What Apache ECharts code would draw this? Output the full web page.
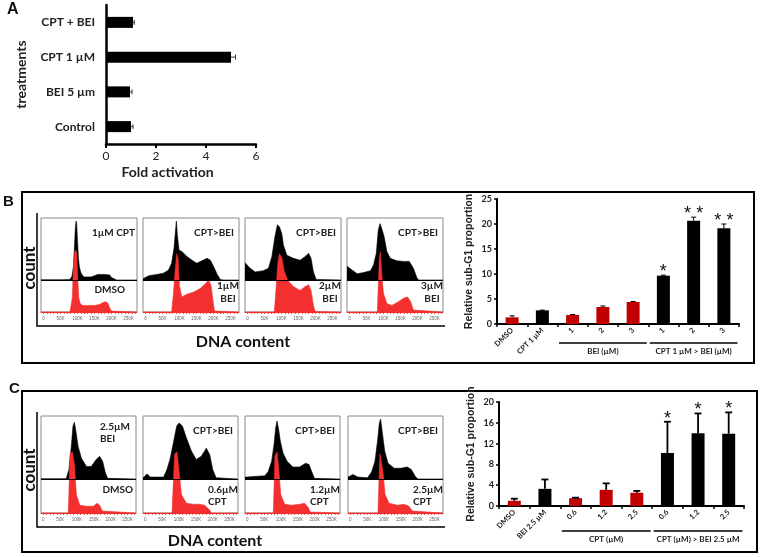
<!DOCTYPE html>
<html><head><meta charset="utf-8">
<script src="https://cdn.jsdelivr.net/npm/echarts@6/dist/echarts.min.js"></script>
<style>html,body{margin:0;padding:0;background:#fff}#main{width:763px;height:557px}</style>
</head><body><div id="main"></div>
<script>
// ---------- DATA ----------
// Panel A
const aCategories = ['Control', 'BEI 5 µm', 'CPT 1 µM', 'CPT + BEI'];
const aValues = [1.0, 0.96, 5.0, 1.08];
const aErrors = [0.08, 0.08, 0.18, 0.05];

// Panel B bar chart
const bCategories = ['DMSO', 'CPT 1 µM', '1', '2', '3', '1', '2', '3'];
const bValues = [1.33, 2.73, 1.8, 3.4, 4.4, 9.67, 20.67, 19.13];
const bErrors = [0.3, 0.05, 0.1, 0.2, 0.1, 0.1, 0.7, 0.87];
const bKinds = ['ctrl', 'ref', 'dose', 'dose', 'dose', 'combo', 'combo', 'combo'];
const bStars = ['', '', '', '', '', '*', '* *', '* *'];
const bGroupRanges = [[2, 4], [5, 7]];
const bGroupNames = ['BEI (µM)', 'CPT 1 µM > BEI (µM)'];

// Panel C bar chart
const cCategories = ['DMSO', 'BEI 2.5 µM', '0.6', '1.2', '2.5', '0.6', '1.2', '2.5'];
const cValues = [1.0, 3.3, 1.5, 3.1, 2.55, 10.2, 14.0, 13.9];
const cErrors = [0.4, 1.8, 0.1, 1.25, 0.35, 6.0, 3.8, 4.1];
const cKinds = ['ctrl', 'ref', 'dose', 'dose', 'dose', 'combo', 'combo', 'combo'];
const cStars = ['', '', '', '', '', '*', '*', '*'];
const cGroupRanges = [[2, 4], [5, 7]];
const cGroupNames = ['CPT (µM)', 'CPT (µM) > BEI 2.5 µM'];

// Flow histograms: [DNA content (K), count]
const histTicks = [0, 50, 100, 150, 200, 250];
const histB1Black = [[-7,0.5],[60,0.5],[78,1],[84,6],[88,20],[91,50],[94,85],[96,95],[98,90],[100,65],[103,35],[106,20],[110,12],[114,8],[120,5],[140,5],[150,7],[160,9],[180,9],[195,8],[200,4],[205,1],[215,0],[275,0]];
const histB1Red = [[-7,0],[78,0],[82,2],[85,15],[88,45],[91,63],[95,66],[98,62],[101,35],[104,15],[108,9],[115,7],[130,7],[150,7],[165,8],[175,10],[183,11],[190,9],[195,4],[200,1],[205,0],[275,0]];
const histB2Black = [[-7,2],[-2,3],[10,7],[34,9],[53,11],[68,16],[77,27],[84,51],[89,83],[91,95],[94,72],[99,48],[107,46],[122,38],[137,32],[151,27],[166,31],[181,35],[191,32],[201,21],[211,9],[220,1],[228,0],[275,0]];
const histB2Red = [[-7,0],[77,0],[82,18],[87,43],[92,62],[96,57],[100,28],[107,16],[122,19],[141,21],[161,25],[176,30],[186,34],[193,28],[199,11],[203,1],[206,0],[275,0]];
const histB3Black = [[-7,28],[-2,26],[8,19],[23,13],[47,15],[62,19],[72,38],[81,70],[88,89],[94,86],[101,75],[106,56],[116,40],[135,35],[155,32],[170,38],[180,43],[187,35],[194,13],[202,1],[206,0],[275,0]];
const histB3Red = [[-7,0],[79,0],[84,23],[89,51],[94,62],[101,58],[108,44],[118,34],[135,27],[155,23],[170,27],[180,29],[187,23],[194,7],[199,0.5],[202,0],[275,0]];
const histB4Black = [[-7,22],[-2,21],[8,16],[23,10],[42,12],[62,15],[71,24],[79,43],[85,81],[90,91],[95,83],[102,70],[110,46],[120,35],[139,31],[159,30],[176,30],[188,19],[198,4],[203,0],[275,0]];
const histB4Red = [[-7,0],[82,0],[85,28],[88,58],[91,64],[95,41],[100,20],[110,9],[125,7],[144,11],[161,15],[171,16],[180,11],[188,2],[192,0],[275,0]];
const histC1Black = [[-7,0.5],[68,0.5],[76,15],[83,52],[88,84],[92,90],[96,78],[103,52],[113,33],[128,20],[142,20],[157,31],[167,36],[176,28],[184,10],[191,1],[196,0],[275,0]];
const histC1Red = [[-7,0],[74,0],[76,23],[79,61],[86,63],[92,51],[98,19],[108,8],[128,7],[148,7],[160,10],[167,8],[175,2],[179,0],[275,0]];
const histC2Black = [[-7,2],[-3,2],[5,8],[15,3],[54,3],[64,15],[73,31],[83,57],[93,84],[100,89],[110,84],[122,65],[137,44],[151,31],[166,36],[181,49],[191,39],[200,15],[210,2],[214,0],[275,0]];
const histC2Red = [[-7,0],[79,0],[82,23],[87,61],[94,63],[99,47],[107,19],[122,10],[142,9],[161,9],[176,8],[191,3],[196,0],[275,0]];
const histC3Black = [[-7,3],[-1,3],[18,4],[52,5],[62,12],[72,28],[79,54],[84,81],[88,92],[93,78],[98,60],[106,41],[118,28],[135,19],[155,19],[173,25],[183,23],[193,9],[199,1],[203,0],[275,0]];
const histC3Red = [[-7,0],[77,0],[79,23],[82,59],[88,63],[93,47],[99,19],[111,9],[131,8],[155,9],[170,10],[180,6],[187,1],[190,0],[275,0]];
const histC4Black = [[-7,3],[-2,3],[8,7],[22,3],[51,2],[63,11],[73,28],[81,62],[86,89],[90,95],[95,73],[102,44],[112,25],[130,17],[149,17],[169,19],[181,15],[193,4],[200,0],[275,0]];
const histC4Red = [[-7,0],[82,0],[84,23],[88,61],[92,63],[97,42],[103,19],[115,10],[140,8],[159,9],[174,7],[184,2],[188,0],[275,0]];

const histBTopLabels = ['1µM CPT', 'CPT>BEI', 'CPT>BEI', 'CPT>BEI'];
const histBBottomLabels = ['DMSO', '1µM\nBEI', '2µM\nBEI', '3µM\nBEI'];
const histCTopLabels = ['2.5µM\nBEI', 'CPT>BEI', 'CPT>BEI', 'CPT>BEI'];
const histCBottomLabels = ['DMSO', '0.6µM\nCPT', '1.2µM\nCPT', '2.5µM\nCPT'];

// ---------- LAYOUT / STYLE ----------
const FONT = 'Lato, "Open Sans", sans-serif';
const ARIAL = '"Liberation Sans", Arial, sans-serif';
const RED_HIST = '#f42f2f';
const kindColor = {ctrl: '#c00000', ref: '#000', dose: '#c00000', combo: '#000'};
const HB = {lefts: [41, 143, 245, 347], width: 96, top: 218, divider: 280, base: 312,
  black: [histB1Black, histB2Black, histB3Black, histB4Black], red: [histB1Red, histB2Red, histB3Red, histB4Red]};
const HC = {lefts: [41, 143, 245, 348], width: 95, top: 416, divider: 479, base: 513,
  black: [histC1Black, histC2Black, histC3Black, histC4Black], red: [histC1Red, histC2Red, histC3Red, histC4Red]};

const grids = [], xAxes = [], yAxes = [], series = [], graphics = [];

// ---------- Panel A ----------
grids.push({left: 106, top: 5, width: 150, height: 139});
xAxes.push({gridIndex: 0, type: 'value', min: 0, max: 6, interval: 2,
  axisLine: {show: true, lineStyle: {color: '#000', width: 2.5}},
  axisTick: {show: true, length: 4, lineStyle: {color: '#000', width: 2}},
  axisLabel: {fontSize: 12, color: '#222', fontFamily: FONT, margin: 6},
  splitLine: {show: false},
  name: 'Fold activation', nameLocation: 'middle', nameGap: 21,
  nameTextStyle: {fontSize: 14, fontWeight: 'bold', fontFamily: FONT, color: '#222', padding: [0, 27, 0, 0]}});
yAxes.push({gridIndex: 0, type: 'category', data: aCategories,
  axisLine: {show: true, lineStyle: {color: '#000', width: 2.5}},
  axisTick: {show: false},
  axisLabel: {fontSize: 12, fontWeight: 'bold', color: '#222', fontFamily: FONT, margin: 11},
  name: 'treatments', nameLocation: 'middle', nameGap: 78, nameRotate: 90,
  nameTextStyle: {fontSize: 14, fontWeight: 'bold', fontFamily: FONT, color: '#222'}});
series.push({type: 'bar', xAxisIndex: 0, yAxisIndex: 0, data: aValues, barWidth: 11,
  itemStyle: {color: '#000'}, z: 2});
series.push({type: 'custom', xAxisIndex: 0, yAxisIndex: 0, z: 3,
  data: aValues.map((v, i) => [v, i, aErrors[i]]),
  renderItem: (params, api) => {
    const v = api.value(0), c = api.value(1), e = api.value(2);
    const p0 = api.coord([v, c]), p1 = api.coord([v + e, c]);
    return {type: 'group', children: [
      {type: 'line', shape: {x1: p0[0], y1: p0[1], x2: p1[0], y2: p1[1]}, style: {stroke: '#333', lineWidth: 1}},
      {type: 'line', shape: {x1: p1[0], y1: p1[1] - 2.5, x2: p1[0], y2: p1[1] + 2.5}, style: {stroke: '#333', lineWidth: 1}}
    ]};
  }});

// ---------- Histograms ----------
function addHistSet(H, topLabels, topAlign) {
  const blackMin = -(H.base - H.divider) / (H.divider - H.top) * 100;
  H.lefts.forEach((left, i) => {
    const g = grids.length;
    grids.push({left: left, top: H.top, width: H.width, height: H.base - H.top,
      show: true, borderColor: '#8a8a8a', borderWidth: 1, backgroundColor: 'transparent'});
    const xi = xAxes.length;
    xAxes.push({gridIndex: g, type: 'value', min: -7, max: 275,
      axisLine: {show: true, onZero: false, lineStyle: {color: RED_HIST, width: 1}},
      axisTick: {show: true, length: 2, customValues: [0,10,20,30,40,50,60,70,80,90,100,110,120,130,140,150,160,170,180,190,200,210,220,230,240,250,260,270], lineStyle: {color: RED_HIST, width: 0.8}},
      axisLabel: {show: true, customValues: histTicks, fontSize: 4.5, color: '#666', margin: 4,
        formatter: v => v === 0 ? '0' : v + 'K'},
      splitLine: {show: false}});
    const yr = yAxes.length;
    yAxes.push({gridIndex: g, type: 'value', min: 0, max: 100, show: false, splitLine: {show: false}});
    const yb = yAxes.length;
    yAxes.push({gridIndex: g, type: 'value', min: blackMin, max: 100, show: false, splitLine: {show: false}});
    series.push({type: 'line', xAxisIndex: xi, yAxisIndex: yb, data: H.black[i], symbol: 'none',
      lineStyle: {width: 0.6, color: '#000'}, areaStyle: {color: '#000', opacity: 1}, z: 2,
      markLine: {silent: true, symbol: 'none', label: {show: false}, animation: false,
        lineStyle: {color: '#000', width: 1, type: 'solid'}, data: [{yAxis: 0}]}});
    series.push({type: 'line', xAxisIndex: xi, yAxisIndex: yr, data: H.red[i], symbol: 'none',
      lineStyle: {width: 0.6, color: RED_HIST}, areaStyle: {color: RED_HIST, opacity: 1}, z: 3});
    const right = left + H.width;
    const tl = topLabels[i];
    if (topAlign[i] === 'left') {
      graphics.push({type: 'text', x: left + 59, y: H.top + 5, z: 10,
        style: {text: tl, font: 'bold 10px ' + FONT, fill: '#222', align: 'left', verticalAlign: 'top', lineHeight: 12}});
    } else {
      graphics.push({type: 'text', x: right - (i === 0 ? 2 : 5), y: H.top + 15, z: 10,
        style: {text: tl, font: 'bold 10px ' + FONT, fill: '#222', align: 'right', verticalAlign: 'middle'}});
    }
  });
}
addHistSet(HB, histBTopLabels, ['right', 'right', 'right', 'right']);
addHistSet(HC, histCTopLabels, ['left', 'right', 'right', 'right']);

// bottom labels
HB.lefts.forEach((left, i) => {
  const right = left + HB.width;
  if (i === 0) {
    graphics.push({type: 'text', x: right - 12, y: 290, z: 10,
      style: {text: histBBottomLabels[i], font: 'bold 10px ' + FONT, fill: '#222', align: 'right', verticalAlign: 'middle'}});
  } else {
    graphics.push({type: 'text', x: right - 11, y: 279, z: 10,
      style: {text: histBBottomLabels[i], font: 'bold 10px ' + FONT, fill: '#222', align: 'center', verticalAlign: 'top', lineHeight: 13}});
  }
});
HC.lefts.forEach((left, i) => {
  const right = left + HC.width;
  if (i === 0) {
    graphics.push({type: 'text', x: right - 3, y: 490, z: 10,
      style: {text: histCBottomLabels[i], font: 'bold 10px ' + FONT, fill: '#222', align: 'right', verticalAlign: 'middle'}});
  } else {
    graphics.push({type: 'text', x: right - 30, y: 484, z: 10,
      style: {text: histCBottomLabels[i], font: 'bold 10px ' + FONT, fill: '#222', align: 'left', verticalAlign: 'top', lineHeight: 12}});
  }
});

// ---------- Bar charts B and C ----------
function addBarChart(gridRect, cats, vals, errs, kinds, stars, groupRanges, groupNames, yMax, yInt, errW, capHalf, groupOff) {
  const g = grids.length;
  grids.push(gridRect);
  const xi = xAxes.length;
  xAxes.push({gridIndex: g, type: 'category', data: cats,
    axisLine: {show: true, lineStyle: {color: '#000', width: 2}},
    axisTick: {show: true, alignWithLabel: false, length: 3, lineStyle: {color: '#000', width: 1.5}},
    axisLabel: {rotate: 45, fontSize: 7.5, fontWeight: 'bold', fontFamily: FONT, color: '#222', interval: 0, margin: 5}});
  const yi = yAxes.length;
  yAxes.push({gridIndex: g, type: 'value', min: 0, max: yMax, interval: yInt,
    axisLine: {show: true, lineStyle: {color: '#000', width: 2}},
    axisTick: {show: true, length: 3, lineStyle: {color: '#000', width: 1.5}},
    axisLabel: {fontSize: 9, fontWeight: 'bold', fontFamily: FONT, color: '#222', margin: 5},
    splitLine: {show: false},
    name: 'Relative sub-G1 proportion', nameLocation: 'middle', nameGap: 22,
    nameTextStyle: {fontSize: 10.5, fontWeight: 'bold', fontFamily: ARIAL, color: '#222'}});
  series.push({type: 'bar', xAxisIndex: xi, yAxisIndex: yi, barWidth: 13, z: 2,
    data: vals.map((v, i) => ({value: v, itemStyle: {color: kindColor[kinds[i]]}}))});
  series.push({type: 'custom', xAxisIndex: xi, yAxisIndex: yi, z: 4, clip: false,
    data: vals.map((v, i) => [i, v, errs[i]]),
    renderItem: (params, api) => {
      const c = api.value(0), v = api.value(1), e = api.value(2);
      const p0 = api.coord([c, v]), p1 = api.coord([c, v + e]);
      const children = [
        {type: 'line', shape: {x1: p0[0], y1: p0[1], x2: p1[0], y2: p1[1]}, style: {stroke: '#000', lineWidth: errW}},
        {type: 'line', shape: {x1: p1[0] - capHalf, y1: p1[1], x2: p1[0] + capHalf, y2: p1[1]}, style: {stroke: '#000', lineWidth: errW}}
      ];
      const s = stars[params.dataIndex];
      if (s) children.push({type: 'text', x: p1[0], y: p1[1] - 3,
        style: {text: s, font: '18px ' + ARIAL, fill: '#111', align: 'center', verticalAlign: 'middle'}});
      return {type: 'group', children: children};
    }});
  series.push({type: 'custom', xAxisIndex: xi, yAxisIndex: yi, z: 4, clip: false,
    data: groupRanges.map(r => [r[0], r[1]]),
    renderItem: (params, api) => {
      const band = api.size([1, 0])[0];
      const x1 = api.coord([api.value(0), 0])[0] - band * 0.45;
      const x2 = api.coord([api.value(1), 0])[0] + band * 0.45;
      const y = api.coord([0, 0])[1] + groupOff;
      return {type: 'group', children: [
        {type: 'line', shape: {x1: x1, y1: y, x2: x2, y2: y}, style: {stroke: '#000', lineWidth: 1.5}},
        {type: 'text', x: (x1 + x2) / 2, y: y + 8,
          style: {text: groupNames[params.dataIndex], font: 'bold 8px ' + FONT, fill: '#222', align: 'center', verticalAlign: 'middle'}}
      ]};
    }});
}
addBarChart({left: 497, top: 199, width: 242, height: 125}, bCategories, bValues, bErrors, bKinds, bStars,
  bGroupRanges, bGroupNames, 25, 5, 1, 2.5, 19);
addBarChart({left: 499, top: 402, width: 245, height: 104}, cCategories, cValues, cErrors, cKinds, cStars,
  cGroupRanges, cGroupNames, 20, 4, 1.8, 3.5, 25);

// ---------- Decorations ----------
graphics.push(
  {type: 'text', x: 7, y: 2, style: {text: 'A', font: 'bold 16px ' + ARIAL, fill: '#111'}},
  {type: 'text', x: 3, y: 194, style: {text: 'B', font: 'bold 15px ' + ARIAL, fill: '#111'}},
  {type: 'text', x: 9, y: 381, style: {text: 'C', font: 'bold 15px ' + ARIAL, fill: '#111'}},
  {type: 'rect', shape: {x: 22, y: 192, width: 732, height: 171}, style: {fill: 'none', stroke: '#000', lineWidth: 2}},
  {type: 'rect', shape: {x: 22, y: 391, width: 735, height: 161}, style: {fill: 'none', stroke: '#000', lineWidth: 2}},
  {type: 'polyline', shape: {points: [[37, 213], [37, 326], [445, 326]]}, style: {fill: 'none', stroke: '#000', lineWidth: 1.5}},
  {type: 'polyline', shape: {points: [[37, 412], [37, 527], [445, 527]]}, style: {fill: 'none', stroke: '#000', lineWidth: 1.5}},
  {type: 'text', x: 30, y: 268, rotation: Math.PI / 2, style: {text: 'count', font: 'bold 17px ' + FONT, fill: '#111', align: 'center', verticalAlign: 'middle'}},
  {type: 'text', x: 30, y: 470, rotation: Math.PI / 2, style: {text: 'count', font: 'bold 17px ' + FONT, fill: '#111', align: 'center', verticalAlign: 'middle'}},
  {type: 'text', x: 243, y: 342, style: {text: 'DNA content', font: 'bold 16px ' + FONT, fill: '#111', align: 'center', verticalAlign: 'middle'}},
  {type: 'text', x: 215, y: 541, style: {text: 'DNA content', font: 'bold 16px ' + FONT, fill: '#111', align: 'center', verticalAlign: 'middle'}}
);

const chart = echarts.init(document.getElementById('main'), null, {renderer: 'canvas'});
chart.setOption({
  animation: false,
  backgroundColor: '#fff',
  grid: grids, xAxis: xAxes, yAxis: yAxes, series: series,
  graphic: {elements: graphics}
});
</script></body></html>
